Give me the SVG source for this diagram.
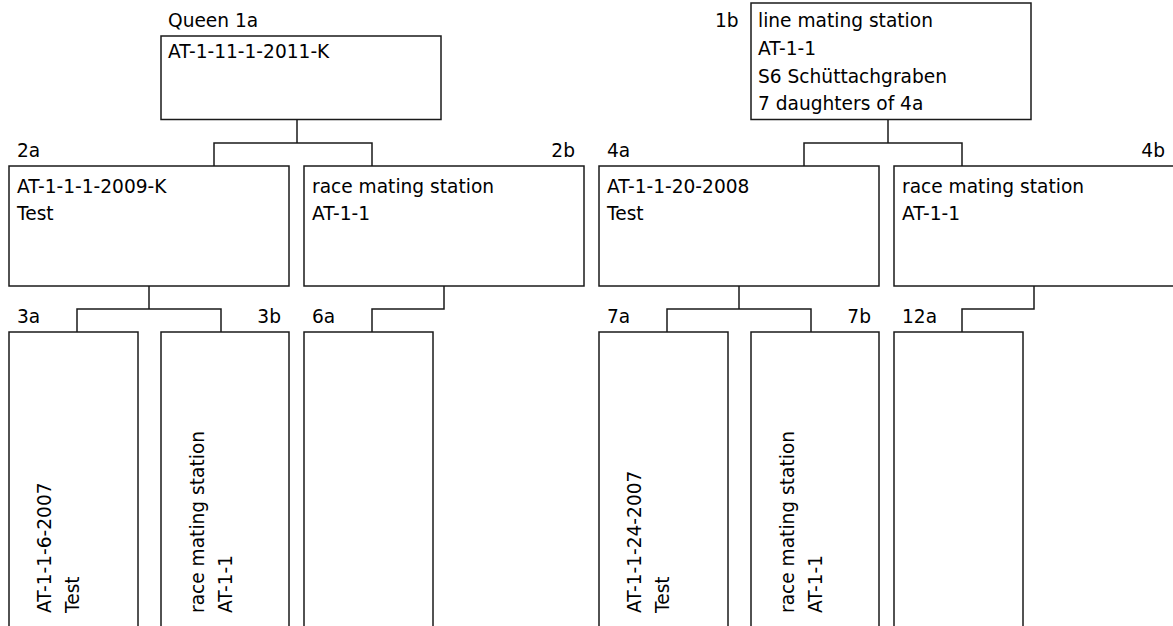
<svg xmlns="http://www.w3.org/2000/svg" width="1173" height="626" viewBox="0 0 1173 626">
<style>
.box{fill:#fff;stroke:#1a1a1a;stroke-width:1.5}
.con{fill:none;stroke:#1a1a1a;stroke-width:1.5}
text{font-family:"DejaVu Sans",sans-serif;font-size:18.6px;fill:#000}
.end{text-anchor:end}
</style>
<rect width="1173" height="626" fill="#fff"/>
<g id="connectors">
<path class="con" d="M297,119.5V143M214,166V143H372V166"/>
<path class="con" d="M888,119.5V143M804,166V143H962V166"/>
<path class="con" d="M149,286V309M77,332V309H221V332"/>
<path class="con" d="M444,286V309H372V332"/>
<path class="con" d="M739,286V309M667,332V309H811V332"/>
<path class="con" d="M1034,286V309H962V332"/>
</g>
<g id="n1a">
<text x="168" y="27">Queen 1a</text>
<rect class="box" x="161" y="36" width="280" height="83.5"/>
<text x="168" y="58">AT-1-11-1-2011-K</text>
</g>
<g id="n1b">
<text x="715" y="27">1b</text>
<rect class="box" x="751" y="3" width="280" height="116.5"/>
<text x="758" y="27">line mating station</text>
<text x="758" y="55">AT-1-1</text>
<text x="758" y="83">S6 Schüttachgraben</text>
<text x="758" y="110">7 daughters of 4a</text>
</g>
<g id="n2a">
<text x="17" y="157">2a</text>
<rect class="box" x="9" y="166" width="280" height="120"/>
<text x="17" y="193">AT-1-1-1-2009-K</text>
<text x="17" y="220">Test</text>
</g>
<g id="n2b">
<text class="end" x="575" y="157">2b</text>
<rect class="box" x="304" y="166" width="280" height="120"/>
<text x="312" y="193">race mating station</text>
<text x="312" y="220">AT-1-1</text>
</g>
<g id="n4a">
<text x="607" y="157">4a</text>
<rect class="box" x="599" y="166" width="280" height="120"/>
<text x="607" y="193">AT-1-1-20-2008</text>
<text x="607" y="220">Test</text>
</g>
<g id="n4b">
<text class="end" x="1165" y="157">4b</text>
<rect class="box" x="894" y="166" width="290" height="120"/>
<text x="902" y="193">race mating station</text>
<text x="902" y="220">AT-1-1</text>
</g>
<g id="n3a">
<text x="17" y="323">3a</text>
<rect class="box" x="9" y="332" width="129" height="310"/>
<text transform="translate(51,613) rotate(-90)">AT-1-1-6-2007</text>
<text transform="translate(79,613) rotate(-90)">Test</text>
</g>
<g id="n3b">
<text class="end" x="281" y="323">3b</text>
<rect class="box" x="161" y="332" width="128" height="310"/>
<text transform="translate(204,613) rotate(-90)">race mating station</text>
<text transform="translate(232,613) rotate(-90)">AT-1-1</text>
</g>
<g id="n6a">
<text x="312" y="323">6a</text>
<rect class="box" x="304" y="332" width="129" height="310"/>
</g>
<g id="n7a">
<text x="607" y="323">7a</text>
<rect class="box" x="599" y="332" width="129" height="310"/>
<text transform="translate(641,613) rotate(-90)">AT-1-1-24-2007</text>
<text transform="translate(669,613) rotate(-90)">Test</text>
</g>
<g id="n7b">
<text class="end" x="871" y="323">7b</text>
<rect class="box" x="751" y="332" width="128" height="310"/>
<text transform="translate(794,613) rotate(-90)">race mating station</text>
<text transform="translate(822,613) rotate(-90)">AT-1-1</text>
</g>
<g id="n12a">
<text x="902" y="323">12a</text>
<rect class="box" x="894" y="332" width="129" height="310"/>
</g>
</svg>
